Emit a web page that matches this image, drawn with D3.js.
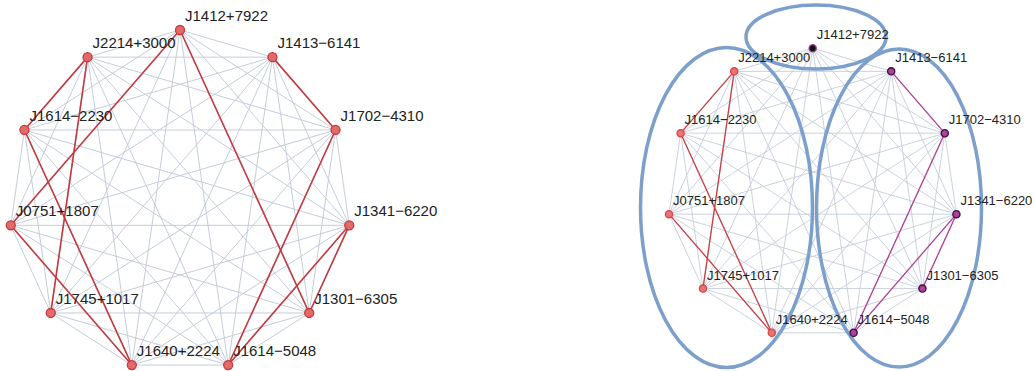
<!DOCTYPE html>
<html>
<head>
<meta charset="utf-8">
<script src="https://cdn.jsdelivr.net/npm/d3@7"></script>
<style>
  html, body { margin: 0; padding: 0; background: #fff; }
  svg { display: block; }
  text { font-family: "Liberation Sans", Arial, sans-serif; fill: #222; }
</style>
</head>
<body>
<svg id="chart" width="1035" height="371"></svg>
<script>
// Pulsars, in clockwise order around the ring starting at the top
const pulsars = [
  "J1412+7922", "J1413\u22126141", "J1702\u22124310", "J1341\u22126220",
  "J1301\u22126305", "J1614\u22125048", "J1640+2224", "J1745+1017",
  "J0751+1807", "J1614\u22122230", "J2214+3000"
];

// Strongly correlated pairs (highlighted edges)
const linkSource = ["J2214+3000", "J2214+3000", "J1412+7922", "J1412+7922", "J1413\u22126141",
                    "J1702\u22124310", "J1614\u22122230", "J0751+1807", "J1341\u22126220", "J1341\u22126220"];
const linkTarget = ["J1614\u22122230", "J1745+1017", "J0751+1807", "J1301\u22126305", "J1702\u22124310",
                    "J1614\u22125048", "J1640+2224", "J1640+2224", "J1614\u22125048", "J1301\u22126305"];

// Community assignment of each pulsar (0 = isolated, 1 = west group, 2 = east group)
const community = [0, 2, 2, 2, 2, 2, 1, 1, 1, 1, 1];

const svg = d3.select("#chart");
const n = pulsars.length;
const angle = d3.scaleLinear().domain([0, n]).range([-Math.PI / 2, 1.5 * Math.PI]);

function ringLayout(cx, cy, r) {
  const pos = new Map();
  pulsars.forEach((p, i) => {
    const a = angle(i);
    pos.set(p, [cx + r * Math.cos(a), cy + r * Math.sin(a)]);
  });
  return pos;
}

const allPairs = [];
for (let i = 0; i < n; i++)
  for (let j = i + 1; j < n; j++) allPairs.push([pulsars[i], pulsars[j]]);

const strong = linkSource.map((s, i) => [s, linkTarget[i]]);

function drawGraph(g, pos, opt) {
  g.append("g").selectAll("line").data(allPairs).join("line")
    .attr("x1", d => pos.get(d[0])[0]).attr("y1", d => pos.get(d[0])[1])
    .attr("x2", d => pos.get(d[1])[0]).attr("y2", d => pos.get(d[1])[1])
    .attr("stroke", "#c3cddb").attr("stroke-width", opt.grayW);

  const shown = strong.filter(opt.edgeFilter);
  g.append("g").selectAll("line").data(shown).join("line")
    .attr("x1", d => pos.get(d[0])[0]).attr("y1", d => pos.get(d[0])[1])
    .attr("x2", d => pos.get(d[1])[0]).attr("y2", d => pos.get(d[1])[1])
    .attr("stroke", opt.edgeColor).attr("stroke-width", opt.edgeW);

  if (opt.ellipses) {
    g.append("g").selectAll("ellipse").data(opt.ellipses).join("ellipse")
      .attr("cx", d => d.cx).attr("cy", d => d.cy)
      .attr("rx", d => d.rx).attr("ry", d => d.ry)
      .attr("fill", "none").attr("stroke", "#7c9fcb").attr("stroke-width", 3.5);
  }

  const nodes = g.append("g").selectAll("g").data(pulsars).join("g")
    .attr("transform", d => `translate(${pos.get(d)[0]},${pos.get(d)[1]})`);
  nodes.append("circle")
    .attr("r", opt.nodeR)
    .attr("fill", (d, i) => opt.nodeFill(i))
    .attr("stroke", (d, i) => opt.nodeStroke(i))
    .attr("stroke-width", 1.3);
  nodes.append("text")
    .attr("x", opt.labelDx).attr("y", opt.labelDy)
    .attr("font-size", opt.fontSize)
    .text(d => d);
}

// Left: full correlation graph
drawGraph(svg.append("g"), ringLayout(180, 201, 171), {
  grayW: 1,
  edgeFilter: () => true,
  edgeColor: () => "#c2383d",
  edgeW: 1.6,
  nodeR: 4.5,
  nodeFill: () => "#e36a6a",
  nodeStroke: () => "#c43a3a",
  labelDx: 5, labelDy: -9, fontSize: 15
});

// Right: same graph, grouped into communities
const commOf = new Map(pulsars.map((p, i) => [p, community[i]]));
const commFill = ["#111111", "#ea7474", "#b23ea2"];
const commStroke = ["#a0409a", "#d84848", "#3a1234"];
const commEdge = ["#888", "#cc3b3f", "#b14098"];
drawGraph(svg.append("g"), ringLayout(812.7, 193.5, 145.2), {
  grayW: 0.9,
  edgeFilter: d => commOf.get(d[0]) !== 0 && commOf.get(d[0]) === commOf.get(d[1]),
  edgeColor: d => commEdge[commOf.get(d[0])],
  edgeW: 1.3,
  nodeR: 3.6,
  nodeFill: i => commFill[community[i]],
  nodeStroke: i => commStroke[community[i]],
  labelDx: 4, labelDy: -9, fontSize: 13,
  ellipses: [
    { cx: 816, cy: 37, rx: 70, ry: 32 },
    { cx: 726.5, cy: 207.5, rx: 86, ry: 160 },
    { cx: 899, cy: 208, rx: 82.5, ry: 159 }
  ]
});
</script>
</body>
</html>
